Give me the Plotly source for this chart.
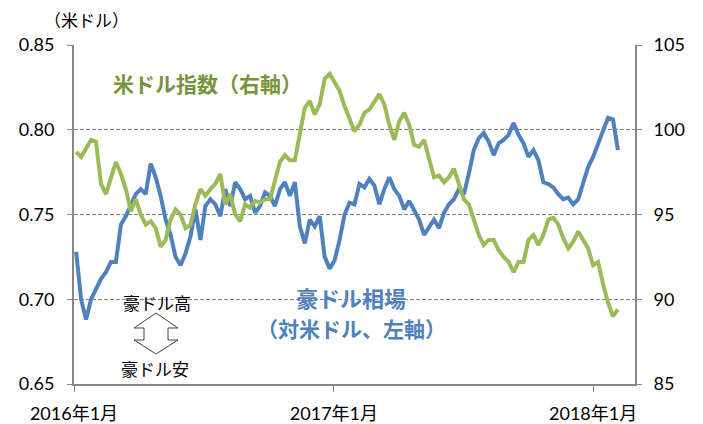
import pandas as pd
import plotly.graph_objects as go
from plotly.subplots import make_subplots

DATES = pd.date_range('2016-01-04', periods=110, freq='7D')

AUD_USD = [
    0.728, 0.700, 0.688, 0.700, 0.706, 0.712, 0.716, 0.722, 0.722, 0.744,
    0.749, 0.756, 0.762, 0.765, 0.762, 0.780, 0.772, 0.761, 0.747, 0.738,
    0.725, 0.720, 0.727, 0.737, 0.753, 0.735, 0.755, 0.759, 0.756, 0.749,
    0.765, 0.755, 0.769, 0.765, 0.759, 0.761, 0.751, 0.755, 0.763, 0.761,
    0.755, 0.765, 0.769, 0.761, 0.769, 0.743, 0.733, 0.747, 0.743, 0.749,
    0.725, 0.718, 0.723, 0.735, 0.750, 0.757, 0.756, 0.768, 0.766, 0.771,
    0.767, 0.756, 0.765, 0.772, 0.765, 0.761, 0.753, 0.758, 0.753, 0.747,
    0.738, 0.742, 0.747, 0.742, 0.751, 0.756, 0.759, 0.765, 0.762, 0.774,
    0.788, 0.795, 0.798, 0.793, 0.785, 0.792, 0.794, 0.797, 0.804, 0.797,
    0.792, 0.784, 0.788, 0.782, 0.769, 0.768, 0.766, 0.762, 0.759, 0.760,
    0.756, 0.759, 0.768, 0.778, 0.784, 0.792, 0.799, 0.807, 0.806, 0.788,
]

USD_INDEX = [
    98.7, 98.4, 98.9, 99.4, 99.3, 96.8, 96.2, 97.2, 98.1, 97.4,
    96.5, 95.2, 95.9, 95.0, 94.4, 94.6, 94.2, 93.1, 93.5, 94.7,
    95.3, 95.0, 94.2, 94.4, 95.6, 96.5, 96.1, 96.5, 96.8, 97.4,
    95.6, 96.2, 95.0, 94.6, 95.6, 95.4, 95.8, 95.7, 95.9, 95.9,
    97.1, 98.1, 98.5, 98.2, 98.2, 99.7, 101.3, 101.7, 100.9, 101.5,
    103.0, 103.3, 102.8, 102.3, 101.4, 100.7, 99.9, 100.3, 101.0, 101.2,
    101.6, 102.1, 101.5, 100.3, 99.4, 100.5, 101.0, 100.3, 99.1, 99.0,
    99.4, 98.2, 97.2, 97.3, 96.9, 97.2, 97.7, 96.8, 95.9, 95.6,
    94.6, 93.8, 93.2, 93.5, 93.5, 92.9, 92.5, 92.2, 91.6, 92.2,
    92.2, 93.5, 93.8, 93.2, 93.8, 94.7, 94.8, 94.4, 93.6, 93.0,
    93.4, 94.0, 93.5, 93.0, 92.0, 92.2, 90.9, 89.8, 89.0, 89.4,
]

X_TICKS = ['2016-01-01', '2017-01-01', '2018-01-01']
X_TICK_TEXT = ['2016年1月', '2017年1月', '2018年1月']

BLUE = '#4F81BD'
GREEN = '#9BBB59'
GREEN_TXT = '#77933C'
GRAY = '#868686'
NUM_FONT = 'Lato, Noto Sans CJK JP, sans-serif'
JP_FONT = 'Noto Sans CJK JP, sans-serif'

# the page body keeps its default 8px margin, so the figure is 8px smaller
OFF = 8
W, H = 703 - OFF, 424 - OFF
L, R, T, B = 74 - OFF, 68, 45 - OFF, 40


def px2paper(x, y):
    ''' page pixel -> paper coords, for texts and the arrow '''
    return ((x - OFF - L) / (W - L - R),
            (H + OFF - B - y) / (H - T - B))


fig = make_subplots(specs=[[{'secondary_y': True}]])
fig.add_trace(
    go.Scatter(x=DATES, y=AUD_USD, mode='lines', name='豪ドル相場',
               line=dict(color=BLUE, width=4)),
    secondary_y=False,
)
fig.add_trace(
    go.Scatter(x=DATES, y=USD_INDEX, mode='lines', name='米ドル指数',
               line=dict(color=GREEN, width=4)),
    secondary_y=True,
)

fig.update_layout(
    width=W, height=H,
    margin=dict(l=L, r=R, t=T, b=B, autoexpand=False),
    paper_bgcolor='white', plot_bgcolor='white',
    showlegend=False,
    font=dict(family=NUM_FONT, size=18, color='black'),
)
fig.update_xaxes(
    domain=[0, 1],
    range=['2016-01-01', '2018-03-01'],
    tickvals=X_TICKS, ticktext=X_TICK_TEXT,
    showgrid=False, showline=True, linecolor=GRAY, linewidth=2,
    ticks='outside', ticklen=6, tickcolor=GRAY, tickwidth=1,
    ticklabelstandoff=6, automargin=False,
    tickfont=dict(size=18),
)
fig.update_yaxes(
    range=[0.65, 0.85], dtick=0.05, tickformat='.2f',
    showgrid=True, gridcolor=GRAY, griddash='4px,2px', gridwidth=1,
    showline=True, linecolor=GRAY, linewidth=2,
    ticks='outside', ticklen=5, tickcolor=GRAY,
    ticklabelstandoff=9, zeroline=False, automargin=False,
    secondary_y=False,
)
fig.update_yaxes(
    range=[85, 105], dtick=5,
    showgrid=False, showline=True, linecolor=GRAY, linewidth=2,
    ticks='outside', ticklen=5, tickcolor=GRAY,
    ticklabelstandoff=8, zeroline=False, automargin=False,
    secondary_y=True,
)

texts = [
    ('（米ドル）', 86, 19, 17, 'black', False),
    ('米ドル指数（右軸）', 207, 83, 21, GREEN_TXT, True),
    ('豪ドル相場', 351, 297, 22, BLUE, True),
    ('（対米ドル、左軸）', 351, 328, 21, BLUE, True),
    ('豪ドル高', 157, 302, 17, 'black', False),
    ('豪ドル安', 155, 368, 17, 'black', False),
]
for txt, x, y, size, color, bold in texts:
    px_, py_ = px2paper(x, y)
    fig.add_annotation(
        x=px_, y=py_, xref='paper', yref='paper',
        text=f'<b>{txt}</b>' if bold else txt,
        showarrow=False, xanchor='center', yanchor='middle',
        font=dict(family=JP_FONT, size=size, color=color),
    )

# hollow double arrow between 豪ドル高 / 豪ドル安
arrow = [(156, 313), (134, 328), (144, 328), (144, 340), (134, 340),
         (156, 354), (178, 340), (168, 340), (168, 328), (178, 328)]
pts = [px2paper(x, y) for x, y in arrow]
path = 'M ' + ' L '.join(f'{a:.4f},{b:.4f}' for a, b in pts) + ' Z'
fig.add_shape(type='path', path=path, xref='paper', yref='paper',
              line=dict(color='#404040', width=1), fillcolor='white')

fig.write_html('out.html')
